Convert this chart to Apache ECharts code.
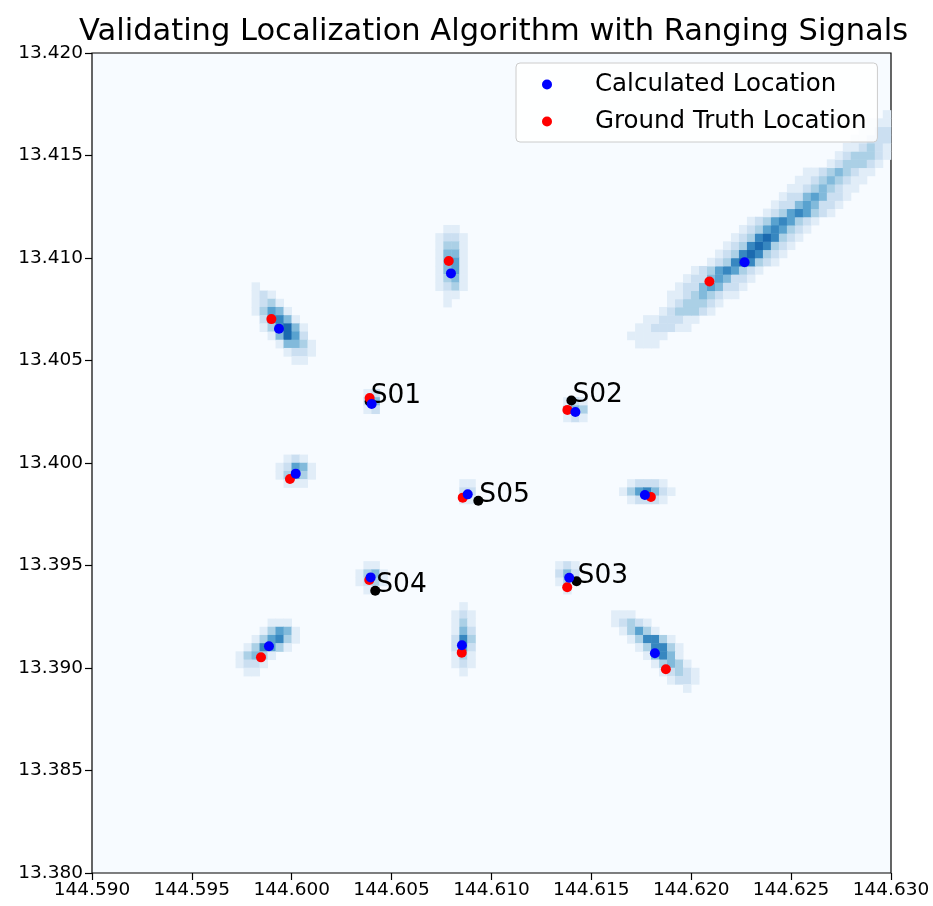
<!DOCTYPE html>
<html><head><meta charset="utf-8">
<script src="https://cdn.jsdelivr.net/npm/echarts@6/dist/echarts.min.js"></script>
<style>html,body{margin:0;padding:0;background:#fff}#c{width:933px;height:906px}</style>
</head><body><div id="c"></div>
<script>
// ---- data ----
const titleText = 'Validating Localization Algorithm with Ranging Signals';
const xMin = 144.590, xMax = 144.630, yMin = 13.380, yMax = 13.420, tickStep = 0.005;

const calcX  = [144.59936, 144.60797, 144.62267, 144.60400, 144.61420, 144.61768, 144.60020, 144.60881, 144.60395, 144.61389, 144.59886, 144.60852, 144.61818];
const calcY  = [13.40655, 13.40925, 13.40979, 13.40288, 13.40249, 13.39844, 13.39948, 13.39847, 13.39442, 13.39440, 13.39106, 13.39111, 13.39072];
const truthX = [144.59898, 144.60786, 144.62091, 144.60390, 144.61380, 144.61798, 144.59991, 144.60856, 144.60388, 144.61379, 144.59846, 144.60851, 144.61873];
const truthY = [13.40702, 13.40985, 13.40885, 13.40317, 13.40259, 13.39834, 13.39922, 13.39831, 13.39429, 13.39394, 13.39052, 13.39075, 13.38994];

const sensorNames = ['S01', 'S02', 'S03', 'S04', 'S05'];
const sensorX = [144.60390, 144.61400, 144.61426, 144.60418, 144.60934];
const sensorY = [13.40300, 13.40305, 13.39423, 13.39377, 13.39816];

// likelihood image: 100 x 100 cells; each run = [row (from bottom), first column, intensity levels 0-9]
const gridCells = 100;
const heatRuns = [
  // upper-left blob
  [71,20,"1"],[70,20,"121"],[69,20,"1231"],[68,20,"13541"],[67,21,"25641"],[66,21,"136741"],[65,22,"14752"],[64,23,"14431"],[63,24,"1221"],[62,25,"11"],
  // top middle blob
  [78,44,"11"],[77,43,"1221"],[76,43,"1331"],[75,43,"1441"],[74,43,"1451"],[73,43,"1451"],[72,43,"1341"],[71,43,"1231"],[70,44,"11"],[69,44,"1"],
  // long diagonal streak
  [64,66,"0011100"],[65,66,"011111"],[66,67,"011222110"],[67,68,"011222110"],[68,70,"012333210"],[69,71,"012333210"],[70,72,"112343211"],
  [71,73,"122454221"],[72,74,"122454221"],[73,75,"123565321"],[74,77,"123676321"],[75,78,"123676321"],[76,79,"123676321"],
  [77,80,"123676321"],[78,81,"123565321"],[79,82,"123565321"],[80,84,"123565321"],[81,85,"122454221"],[82,86,"122454221"],
  [83,87,"112343211"],[84,88,"112343211"],[85,89,"112343211"],[86,91,"012333210"],[87,92,"012333210"],[88,93,"011232110"],
  [89,94,"011222110"],[90,95,"01122211"],[91,96,"0111"],[92,98,"01"],
  // S01
  [58,34,"12"],[57,34,"24"],[56,34,"12"],
  // S02
  [57,59,"121"],[56,59,"243"],[55,59,"121"],
  // right blob
  [47,67,"12221"],[46,66,"1356421"],[45,67,"12221"],
  // left blob
  [50,24,"121"],[49,23,"12541"],[48,23,"13531"],[47,24,"111"],
  // S05
  [47,46,"11"],[46,46,"22"],[45,46,"11"],
  // S04
  [37,34,"11"],[36,33,"1341"],[35,33,"1231"],[34,34,"11"],
  // S03
  [37,58,"121"],[36,58,"242"],[35,58,"131"],[34,59,"1"],
  // lower-left blob
  [30,22,"111"],[29,21,"13541"],[28,20,"135631"],[27,19,"136531"],[26,18,"13431"],[25,18,"1221"],[24,19,"11"],
  // lower middle blob
  [32,46,"1"],[31,45,"121"],[30,45,"131"],[29,45,"142"],[28,45,"263"],[27,45,"252"],[26,45,"131"],[25,45,"121"],[24,46,"1"],
  // lower-right blob
  [31,65,"111"],[30,65,"12321"],[29,66,"13531"],[28,67,"136631"],[27,68,"136631"],[26,69,"14641"],[25,70,"13431"],[24,71,"12321"],[23,72,"1221"],[22,74,"1"]
];

// ---- build series data ----
const cellIdx = Array.from({length: gridCells}, (_, i) => String(i));
const heatData = [];
heatRuns.forEach(([row, col, lv]) => {
  for (let k = 0; k < lv.length; k++) {
    const v = +lv[k];
    const c = col + k;
    if (v > 0 && c < gridCells) heatData.push([c, row, v]);
  }
});
const calcData = calcX.map((x, i) => [x, calcY[i]]);
const truthData = truthX.map((x, i) => [x, truthY[i]]);
const sensorData = sensorX.map((x, i) => ({value: [x, sensorY[i]], name: sensorNames[i]}));

const FONT = 'DejaVu Sans';
const chart = echarts.init(document.getElementById('c'), null, {renderer: 'canvas'});
chart.setOption({
  animation: false,
  backgroundColor: '#ffffff',
  textStyle: {fontFamily: FONT},
  title: {
    text: titleText, left: 74, top: 12,
    textStyle: {fontFamily: FONT, fontSize: 30.5, fontWeight: 'normal', color: '#000'}
  },
  grid: {left: 92, right: 42, top: 53, bottom: 33, show: true, backgroundColor: '#f7fbff', borderColor: '#000', borderWidth: 1.2, containLabel: false},
  legend: {
    data: ['Calculated Location', 'Ground Truth Location'],
    orient: 'vertical', left: 516, top: 63,
    icon: 'circle', itemWidth: 10, itemHeight: 10, itemGap: 12,
    padding: [9, 11, 8, 26],
    backgroundColor: 'rgba(255,255,255,0.85)', borderColor: '#cccccc', borderWidth: 1, borderRadius: 4,
    itemStyle: {opacity: 1},
    textStyle: {fontFamily: FONT, fontSize: 24.5, color: '#000', padding: [0, 0, 0, 38]}
  },
  visualMap: {
    show: false, type: 'continuous', seriesIndex: 0, min: 0, max: 9,
    inRange: {color: ['#f7fbff', '#deebf7', '#c6dbef', '#9ecae1', '#6baed6', '#4292c6', '#2171b5', '#08519c', '#08306b']}
  },
  xAxis: [
    {type: 'value', min: xMin, max: xMax, interval: tickStep,
     axisLine: {show: false}, splitLine: {show: false},
     axisTick: {show: true, length: 7, inside: false, lineStyle: {color: '#000', width: 1.2}},
     axisLabel: {show: true, margin: 8, fontFamily: FONT, fontSize: 18.5, color: '#000', formatter: v => v.toFixed(3), showMinLabel: true, showMaxLabel: true}},
    {type: 'category', data: cellIdx, show: false, boundaryGap: true}
  ],
  yAxis: [
    {type: 'value', min: yMin, max: yMax, interval: tickStep,
     axisLine: {show: false}, splitLine: {show: false},
     axisTick: {show: true, length: 7, inside: false, lineStyle: {color: '#000', width: 1.2}},
     axisLabel: {show: true, margin: 9, fontFamily: FONT, fontSize: 18.5, color: '#000', formatter: v => v.toFixed(3), showMinLabel: true, showMaxLabel: true}},
    {type: 'category', data: cellIdx, show: false, boundaryGap: true}
  ],
  series: [
    {type: 'heatmap', xAxisIndex: 1, yAxisIndex: 1, data: heatData, progressive: 0, silent: true,
     itemStyle: {borderWidth: 0}, emphasis: {disabled: true}, z: 1},
    {type: 'scatter', name: 'Sensors', data: sensorData, symbolSize: 10, itemStyle: {color: '#000000', opacity: 1}, z: 3, silent: true,
     label: {show: true, formatter: p => p.name, position: [5, 5], align: 'left', verticalAlign: 'bottom', offset: [1, 8],
             fontFamily: FONT, fontSize: 26.5, color: '#000000', opacity: 1}},
    {type: 'scatter', name: 'Ground Truth Location', data: truthData, symbolSize: 10, itemStyle: {color: '#ff0000', opacity: 1}, z: 4, silent: true},
    {type: 'scatter', name: 'Calculated Location', data: calcData, symbolSize: 10, itemStyle: {color: '#0000ff', opacity: 1}, z: 5, silent: true}
  ]
});
</script>
</body></html>
